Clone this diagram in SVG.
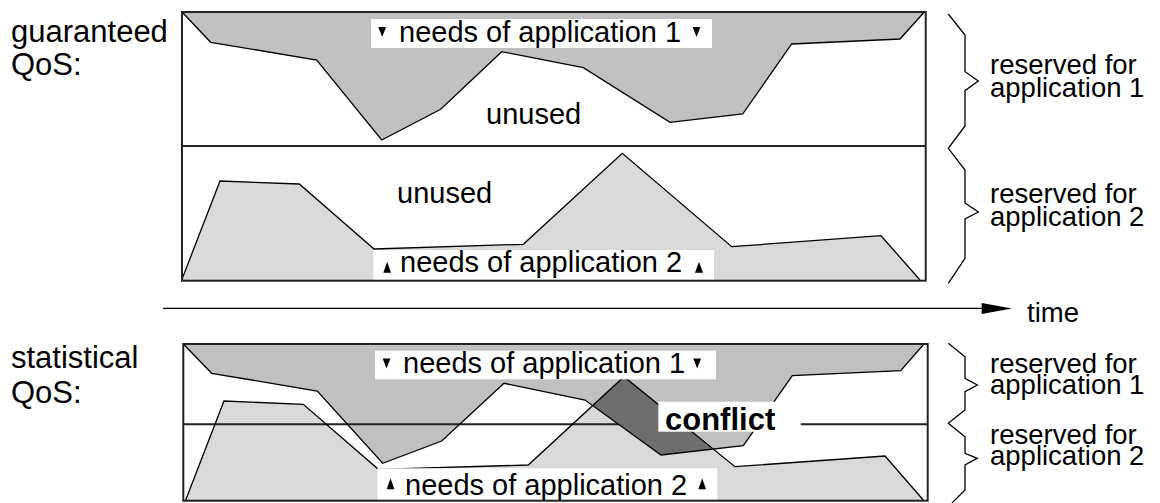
<svg xmlns="http://www.w3.org/2000/svg" width="1160" height="503" viewBox="0 0 1160 503">
<style>
text{font-family:"Liberation Sans",Arial,sans-serif;fill:#000}
.t{font-size:29px}
.r{font-size:27.5px}
.l{font-size:31px}
.a1{fill:#c0c0c0;stroke:none}
.a2{fill:#d9d9d9;stroke:none}
.ol{fill:none;stroke:#000;stroke-width:1.3;stroke-linejoin:miter}
.box{fill:none;stroke:#222;stroke-width:2}
.mid{stroke:#222;stroke-width:2}
.wb{fill:#fff}
.tri{fill:#000}
.br{fill:none;stroke:#000;stroke-width:1.3}
</style>
<defs>
<clipPath id="clipA1b">
<polygon points="183.3,344 211.7,373.3 317.3,391 382.7,463.3 441.7,441 504,383.3 585,400 661,455 743.3,445.7 792.3,375.7 900.7,370.7 924,344"/>
</clipPath>
</defs>
<rect width="1160" height="503" fill="#fff"/>

<g id="label-guaranteed">
<text class="l" x="11" y="42">guaranteed</text>
<text class="l" x="11" y="75">QoS:</text>
</g>
<g id="label-statistical">
<text class="l" x="11" y="368">statistical</text>
<text class="l" x="11" y="403">QoS:</text>
</g>

<g id="guaranteed-chart">
<polygon class="a1" points="182,12 210.7,42.3 316.7,60 381.7,140 440.7,109.3 501.7,51.7 583.3,67.7 670,122.3 742.7,114 791.7,44 900,39 924.3,12"/>
<polyline class="ol" points="182,12 210.7,42.3 316.7,60 381.7,140 440.7,109.3 501.7,51.7 583.3,67.7 670,122.3 742.7,114 791.7,44 900,39 924.3,12"/>
<polygon class="a2" points="181.7,280 220,181 299.3,184 374,249 523.3,244.3 622.3,153.3 731.7,246.7 881,235.7 920,280"/>
<polyline class="ol" points="181.7,280 220,181 299.3,184 374,249 523.3,244.3 622.3,153.3 731.7,246.7 881,235.7 920,280"/>
<text class="t" x="486" y="124">unused</text>
<text class="t" x="397" y="203">unused</text>
<rect class="wb" x="371" y="19" width="341" height="29"/>
<polygon class="tri" points="378.3,27 386,27 382.2,37"/>
<text class="t" x="399" y="42">needs of application 1</text>
<polygon class="tri" points="692.7,27 700.4,27 696.5,37"/>
<rect class="wb" x="373.3" y="250" width="340.7" height="30"/>
<polygon class="tri" points="383.3,272.7 391,272.7 387.2,261.7"/>
<text class="t" x="400" y="271.7">needs of application 2</text>
<polygon class="tri" points="695,272.7 703,272.7 699,261.7"/>
<line class="mid" x1="182" y1="146" x2="925.7" y2="146"/>
<rect class="box" x="182" y="12" width="743.7" height="268.7"/>
</g>

<g id="statistical-chart">
<polygon class="a1" points="183.3,344 211.7,373.3 317.3,391 382.7,463.3 441.7,441 504,383.3 585,400 661,455 743.3,445.7 792.3,375.7 900.7,370.7 924,344"/>
<polygon class="a2" points="185.7,500 224,401 303.3,404.3 378.3,469.3 528.3,465 624,376.7 735,466.7 885,456 923.3,500"/>
<line class="mid" x1="183.3" y1="424.3" x2="927.7" y2="424.3"/>
<polygon id="conflict-area" fill="#6e6e6e" clip-path="url(#clipA1b)" points="185.7,500 224,401 303.3,404.3 378.3,469.3 528.3,465 624,376.7 735,466.7 885,456 923.3,500"/>
<polyline class="ol" points="183.3,344 211.7,373.3 317.3,391 382.7,463.3 441.7,441 504,383.3 585,400 661,455 743.3,445.7 792.3,375.7 900.7,370.7 924,344"/>
<polyline class="ol" points="185.7,500 224,401 303.3,404.3 378.3,469.3 528.3,465 624,376.7 735,466.7 885,456 923.3,500"/>
<rect class="wb" x="375" y="350.7" width="341" height="28.6"/>
<polygon class="tri" points="382.7,358.5 390.4,358.5 386.5,368.5"/>
<text class="t" x="403" y="373.3">needs of application 1</text>
<polygon class="tri" points="693.3,358.5 701,358.5 697.2,368.5"/>
<rect class="wb" x="377.3" y="468.3" width="340" height="32"/>
<polygon class="tri" points="386.7,489.3 394.4,489.3 390.5,478.3"/>
<text class="t" x="405" y="495">needs of application 2</text>
<polygon class="tri" points="698.3,489.3 706,489.3 702.2,478.3"/>
<rect class="wb" x="658.3" y="401.7" width="142.4" height="30"/>
<text x="665" y="430" font-size="31" font-weight="bold">conflict</text>
<rect class="box" x="183.3" y="344" width="744.4" height="156.7"/>
</g>

<g id="braces">
<polyline class="br" points="948.3,14 965,35 965,71.7 978.3,81 965,90.7 965,126 948.3,148.3 965,170 965,203 978.3,212 965,219 965,258.3 948.3,283.3"/>
<polyline class="br" points="948.3,343.3 965,356.7 965,378.3 977.3,385 965,391.7 965,410 948.3,423.3 965,436.7 965,453.3 977.3,458.3 965,465 965,490 952,503"/>
</g>

<g id="reserved-labels">
<text class="r" x="990" y="73.5">reserved for</text>
<text class="r" x="990" y="96.5">application 1</text>
<text class="r" x="990" y="203">reserved for</text>
<text class="r" x="990" y="226">application 2</text>
<text class="r" x="990" y="372.5">reserved for</text>
<text class="r" x="990" y="394">application 1</text>
<text class="r" x="990" y="443.5">reserved for</text>
<text class="r" x="990" y="465">application 2</text>
</g>

<g id="connectors">
<line x1="163" y1="308.3" x2="985" y2="308.3" stroke="#000" stroke-width="1.3"/>
<polygon points="981.7,303 1012,308.4 981.7,314" fill="#000"/>
</g>
<g id="time-label">
<text class="r" x="1027" y="322">time</text>
</g>
</svg>
